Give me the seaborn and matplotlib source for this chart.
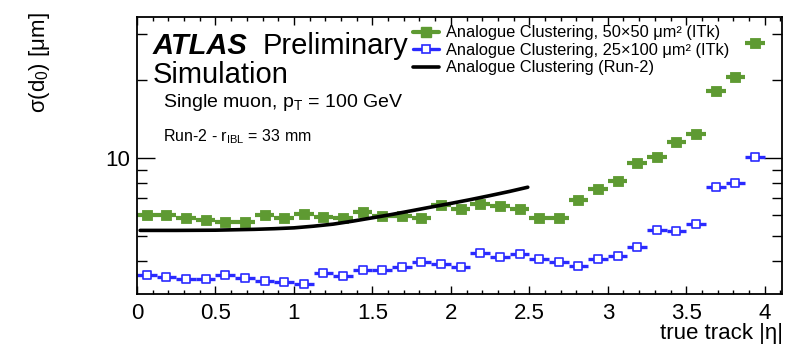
import numpy as np
import matplotlib
matplotlib.use("Agg")
import matplotlib.pyplot as plt
from matplotlib.lines import Line2D
from matplotlib.legend_handler import HandlerTuple
from matplotlib.ticker import FixedLocator, FixedFormatter, NullFormatter
import seaborn as sns

# |eta| binning: 32 bins of width 0.125 between 0 and 4
bin_edges = np.linspace(0.0, 4.0, 33)
eta_centres = 0.5 * (bin_edges[:-1] + bin_edges[1:])
half_width = 0.5 * np.diff(bin_edges)

# sigma(d0) [um] per bin
sigma_50x50 = [6.03, 6.03, 5.86, 5.76, 5.66, 5.65, 6.03, 5.85,
               6.08, 5.90, 5.87, 6.16, 5.94, 5.98, 5.86, 6.59,
               6.36, 6.66, 6.53, 6.32, 5.84, 5.84, 6.87, 7.55,
               8.11, 9.52, 10.08, 11.46, 12.32, 18.01, 20.43, 27.68]
sigma_25x100 = [3.53, 3.47, 3.40, 3.42, 3.52, 3.43, 3.35, 3.33,
                3.27, 3.59, 3.49, 3.68, 3.71, 3.79, 3.97, 3.91,
                3.80, 4.28, 4.15, 4.24, 4.06, 3.97, 3.82, 4.08,
                4.17, 4.52, 5.28, 5.24, 5.56, 7.74, 7.98, 10.09]

# Run-2 reference curve
run2_eta = [0.02, 0.25, 0.5, 0.625, 0.75, 0.875, 1.0, 1.125, 1.25, 1.375,
            1.5, 1.625, 1.75, 1.875, 2.0, 2.125, 2.25, 2.375, 2.49]
run2_sigma = [5.25, 5.25, 5.26, 5.28, 5.30, 5.33, 5.37, 5.45, 5.55, 5.70,
              5.87, 6.05, 6.25, 6.46, 6.67, 6.90, 7.15, 7.42, 7.70]

legend_labels = [
    "Analogue Clustering, 50\u00d750 \u03bcm\u00b2 (ITk)",
    "Analogue Clustering, 25\u00d7100 \u03bcm\u00b2 (ITk)",
    "Analogue Clustering (Run-2)",
]
x_ticks = [0, 0.5, 1, 1.5, 2, 2.5, 3, 3.5, 4]
x_tick_labels = ["0", "0.5", "1", "1.5", "2", "2.5", "3", "3.5", "4"]

GREEN = "#5e9a32"
BLUE = "#2a2aff"

sns.set_style("ticks")
plt.rcParams["font.family"] = ["Liberation Sans", "DejaVu Sans"]
plt.rcParams["mathtext.fontset"] = "custom"
plt.rcParams["mathtext.rm"] = "Liberation Sans"
plt.rcParams["mathtext.it"] = "Liberation Sans:italic"
plt.rcParams["mathtext.bf"] = "Liberation Sans:bold"
plt.rcParams["text.color"] = "black"
plt.rcParams["axes.labelcolor"] = "black"
plt.rcParams["xtick.color"] = "black"
plt.rcParams["ytick.color"] = "black"

W, H = 786, 348
fig = plt.figure(figsize=(W / 100, H / 100), dpi=100)


def fx(px):
    return px / W


def fy(py):
    return 1 - py / H


ax = fig.add_axes([fx(137), fy(293.5), fx(782) - fx(137), fy(16.5) - fy(293.5)])
ax.set_yscale("log")

# horizontal bars showing the bin width
ax.errorbar(eta_centres, sigma_50x50, xerr=half_width, fmt="none",
            ecolor=GREEN, elinewidth=3.0, capsize=0, zorder=2)
ax.errorbar(eta_centres, sigma_25x100, xerr=half_width, fmt="none",
            ecolor=BLUE, elinewidth=2.4, capsize=0, zorder=2)

sns.scatterplot(x=eta_centres, y=sigma_50x50, marker="s", s=44,
                color=GREEN, edgecolor=GREEN, linewidth=0.6,
                ax=ax, legend=False, zorder=3)
sns.scatterplot(x=eta_centres, y=sigma_25x100, marker="s", s=40,
                color="white", edgecolor=BLUE, linewidth=1.2,
                ax=ax, legend=False, zorder=3)
sns.lineplot(x=run2_eta, y=run2_sigma, color="black", linewidth=2.6,
             ax=ax, zorder=4)

ax.set_xlim(0, 4.11)
ax.set_ylim(3.0, 35.0)
ax.set_xlabel("")
ax.set_ylabel("")

ax.xaxis.set_major_locator(FixedLocator(x_ticks))
ax.xaxis.set_major_formatter(FixedFormatter(x_tick_labels))
ax.xaxis.set_minor_locator(FixedLocator(np.arange(0, 4.11, 0.1)))
ax.yaxis.set_major_locator(FixedLocator([10]))
ax.yaxis.set_major_formatter(FixedFormatter(["10"]))
ax.yaxis.set_minor_locator(FixedLocator([4, 5, 6, 7, 8, 9, 20, 30]))
ax.yaxis.set_minor_formatter(NullFormatter())

ax.tick_params(which="both", direction="in", top=True, right=True,
               color="black", width=1.0, labelsize=16, labelcolor="black")
ax.tick_params(axis="x", which="major", length=6, pad=7)
ax.tick_params(axis="x", which="minor", length=3)
ax.tick_params(axis="y", which="major", length=13, pad=5)
ax.tick_params(axis="y", which="minor", length=7)
for sp in ax.spines.values():
    sp.set_visible(True)
    sp.set_color("black")
    sp.set_linewidth(1.3)

# axis titles
fig.text(fx(40), fy(12), "\u03c3(d$_\\mathregular{0}$) [\u03bcm]", rotation=90,
         ha="center", va="top", fontsize=16)
fig.text(fx(783), fy(333), "true track |\u03b7|", ha="right", va="center",
         fontsize=16)

# labels
fig.text(fx(153), fy(54), "ATLAS", fontsize=21, fontweight="bold",
         fontstyle="italic", va="baseline")
fig.text(fx(263), fy(54), "Preliminary", fontsize=21, va="baseline")
fig.text(fx(153), fy(83.3), "Simulation", fontsize=21, va="baseline")
fig.text(fx(163), fy(106.7), "Single muon, p$_\\mathregular{T}$ = 100 GeV",
         fontsize=14, va="baseline")
fig.text(fx(163), fy(141.7), "Run-2 - r$_\\mathregular{IBL}$ = 33 mm",
         fontsize=11.5, va="baseline")

h_green = (Line2D([], [], color=GREEN, lw=3.0),
           Line2D([], [], marker="s", ls="none", color=GREEN, markersize=6.6))
h_blue = (Line2D([], [], color=BLUE, lw=2.4),
          Line2D([], [], marker="s", ls="none", mfc="white", mec=BLUE,
                 mew=1.2, markersize=6.3))
h_black = Line2D([], [], color="black", lw=2.6)
ax.legend([h_green, h_blue, h_black], legend_labels,
          handler_map={tuple: HandlerTuple(ndivide=1, pad=0)},
          loc="upper left", bbox_to_anchor=(fx(413), fy(25.5)),
          bbox_transform=fig.transFigure, frameon=False, fontsize=11.8,
          borderpad=0, borderaxespad=0, handlelength=1.6, handletextpad=0.4,
          labelspacing=0.15)

fig.savefig("out.png", dpi=100)
